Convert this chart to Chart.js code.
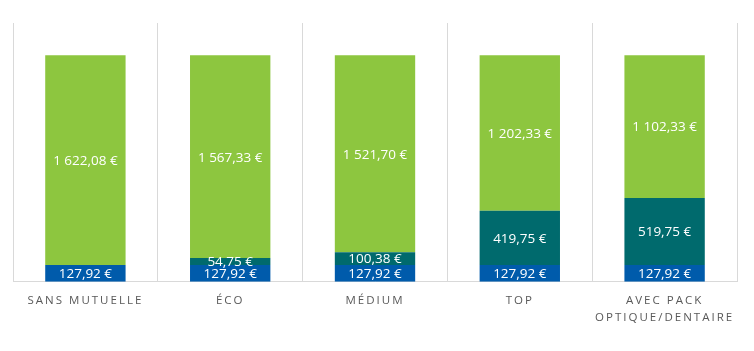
<!DOCTYPE html>
<html>
<head>
<meta charset="utf-8">
<script src="https://cdn.jsdelivr.net/npm/chart.js@4"></script>
<style>
  html, body { margin: 0; padding: 0; background: #fff; }
  #wrap { width: 754px; height: 351px; }
</style>
</head>
<body>
<div id="wrap"><canvas id="canvasMutuelle"></canvas></div>
<script>
var categories = ['SANS MUTUELLE', 'ÉCO', 'MÉDIUM', 'TOP', ['AVEC PACK', 'OPTIQUE/DENTAIRE']];
var base_cost = [127.92, 127.92, 127.92, 127.92, 127.92];
var mutuelle_cost = [0, 54.75, 100.38, 419.75, 519.75];
var remaining = [1622.08, 1567.33, 1521.70, 1202.33, 1102.33];

function euro(v) {
  var parts = v.toFixed(2).split('.');
  var ent = parts[0].replace(/\B(?=(\d{3})+(?!\d))/g, ' ');
  return ent + ',' + parts[1] + ' €';
}

// labels inside the segments
var segmentLabels = {
  id: 'segmentLabels',
  beforeDraw: function(chart) {
    chart.ctx.letterSpacing = '2px';
  },
  afterDatasetsDraw: function(chart) {
    var ctx = chart.ctx;
    ctx.save();
    ctx.letterSpacing = '0px';
    ctx.fillStyle = '#ffffff';
    ctx.font = '13.5px "Open Sans"';
    ctx.textAlign = 'center';
    ctx.textBaseline = 'middle';
    chart.data.datasets.forEach(function(ds, i) {
      var meta = chart.getDatasetMeta(i);
      meta.data.forEach(function(bar, j) {
        var v = ds.data[j];
        if (!v) return;
        var y = (bar.y + bar.base) / 2;
        ctx.fillText(euro(v), bar.x, y + 1);
      });
    });
    ctx.restore();
  }
};

var chartdata = {
  labels: categories,
  datasets: [
    {
      label: 'Base',
      backgroundColor: '#005bab',
      data: base_cost
    },
    {
      label: 'Mutuelle',
      backgroundColor: '#006a6d',
      data: mutuelle_cost
    },
    {
      label: 'Reste',
      backgroundColor: '#8dc63f',
      data: remaining
    }
  ]
};

var ctx = document.getElementById('canvasMutuelle');

var barGraph = new Chart(ctx, {
  type: 'bar',
  data: chartdata,
  options: {
    responsive: true,
    maintainAspectRatio: false,
    animation: false,
    layout: { padding: { left: 13, right: 17, top: 23, bottom: 14 } },
    plugins: {
      legend: { display: false },
      tooltip: { enabled: false }
    },
    datasets: {
      bar: { barPercentage: 1, categoryPercentage: 0.555 }
    },
    scales: {
      x: {
        stacked: true,
        grid: { color: '#d9d9d9', lineWidth: 1, drawTicks: false },
        border: { color: '#d9d9d9' },
        ticks: {
          color: '#595959',
          padding: 11,
          maxRotation: 0,
          autoSkip: false,
          font: { family: '"Open Sans"', size: 11.5, lineHeight: 1.45 }
        }
      },
      y: {
        stacked: true,
        display: false,
        min: 0,
        max: 2000
      }
    }
  },
  plugins: [segmentLabels]
});
</script>
</body>
</html>
